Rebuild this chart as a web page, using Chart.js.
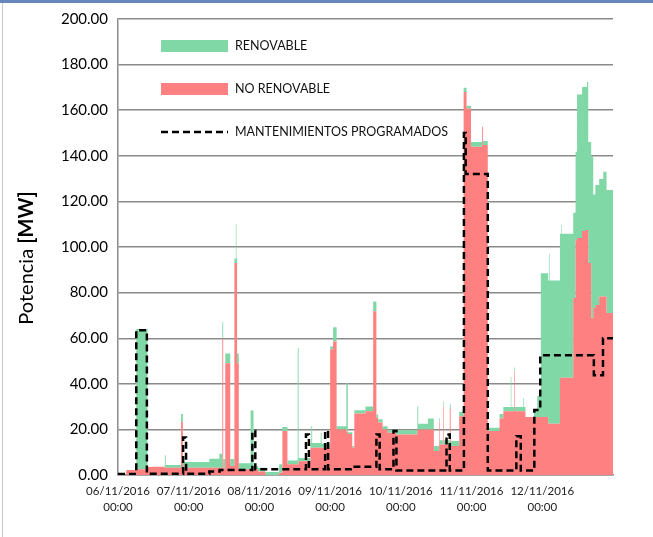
<!DOCTYPE html>
<html>
<head>
<meta charset="utf-8">
<script src="https://cdn.jsdelivr.net/npm/chart.js"></script>
<style>
html,body{margin:0;padding:0;background:#fff;}
#wrap{position:relative;width:653px;height:537px;overflow:hidden;background:#fff;}
#c{position:absolute;left:0;top:0;}
.frame-top{position:absolute;left:0;top:0;width:653px;height:3px;background:#6786bb;}
.frame-left{position:absolute;left:2px;top:3px;width:1px;height:534px;background:#c9c9c9;}
</style>
</head>
<body>
<div id="wrap">
<canvas id="c" width="653" height="537" style="width:653px;height:537px"></canvas>
<div class="frame-top"></div>
<div class="frame-left"></div>
</div>
<script>
// ---- tick labels ----
const dayLabels = ['06/11/2016','07/11/2016','08/11/2016','09/11/2016','10/11/2016','11/11/2016','12/11/2016'];
const timeLabel = '00:00';

// ---- generation series (hours since 06/11/2016 00:00, step start) ----
const hours = [0, 2.8, 6.2, 10.0, 11.7, 15.8, 15.9, 16.2, 21.4, 22.0,
  31.0, 34.4, 35.4, 35.7, 36.4, 38.1, 39.5, 40.0, 40.2, 40.4,
  41.0, 45.0, 46.0, 47.5, 50.0, 54.7, 55.8, 57.5, 61.0, 61.3,
  65.3, 65.6, 65.9, 68.8, 69.1, 72.0, 73.0, 74.2, 77.5, 78.0,
  79.5, 80.2, 84.0, 86.6, 87.7, 88.3, 89.8, 91.5, 94.3, 101.6,
  101.9, 105.2, 107.2, 109.0, 109.2, 110.4, 110.6, 112.6, 112.9, 115.8,
  117.3, 118.3, 119.8, 123.6, 123.9, 125.5, 129.5, 130.8, 133.3, 133.5,
  134.4, 134.6, 137.6, 137.8, 138.3, 141.2, 142.3, 143.5, 146.0, 146.4,
  146.6, 150.0, 150.5, 150.7, 154.5, 155.3, 155.8, 157.5, 158.5, 159.2,
  159.6, 160.6, 161.3, 162.0, 163.3, 164.7, 165.8, 168];

const noRenovable = [0, 2.2, 2.5, 3.5, 3.6, 3.2, 3.2, 3.2, 23.3, 3.2,
  3.2, 3.2, 60, 3, 49, 4, 93, 93, 93, 49,
  2.5, 3, 2.5, 1.5, 0, 1, 19.3, 4.7, 4.7, 6,
  12, 12, 12, 12, 12, 55, 58.6, 20, 19, 18,
  12, 27, 28, 71.8, 25, 23, 20, 18.5, 17.8, 20,
  20, 20, 10.5, 23, 13.4, 30, 13.4, 29, 12.7, 25.8,
  168, 160.7, 144, 152.7, 144.7, 19.3, 24.8, 28, 28, 28,
  45.5, 28, 28, 28, 25.4, 25.4, 25.4, 25.4, 22.5, 22.5,
  22.5, 42.6, 42.6, 42.6, 77.6, 103, 103.9, 107, 107.5, 107.5,
  93, 68.8, 73.2, 74.6, 78.3, 78.3, 71, 71];

const renovable = [0, 0, 61.5, 0, 0, 1.0, 5.5, 1.2, 3.5, 2.5,
  3.9, 6.1, 7, 4, 4.3, 3, 2, 17, 2, 4.3,
  2.6, 25.3, 1.5, 1.7, 1.3, 3.7, 1.7, 1.7, 51, 1.5,
  2, 9.4, 2, 6.5, 1.7, 1.4, 6.2, 1.4, 21.4, 0.7,
  0.7, 1.4, 2, 4.3, 1.5, 1.5, 1.4, 1.1, 1.8, 10,
  2.5, 4.8, 2.2, 2, 1.8, 2.4, 1.8, 2, 2.2, 1.9,
  1.8, 1.3, 2, 0, 1.8, 1.4, 2, 1.8, 15, 1.8,
  1.8, 1.8, 5.8, 1.8, 0, 3.3, 9.2, 63.1, 62.8, 74.5,
  62.8, 63.2, 67.1, 63.2, 37.4, 38.8, 63, 63.2, 62.7, 64.9,
  53, 70.8, 49.8, 52.6, 51.5, 54.7, 54, 54];

// ---- scheduled maintenance (step start hours and MW) ----
const mantHours = [0, 6.2, 9.8, 22.1, 23.1, 31.0, 34.5, 45.6, 46.6, 63.8,
  64.8, 70.3, 71.3, 79.0, 87.7, 88.8, 93.5, 94.5, 111.5, 112.6,
  117.4, 118.0, 125.5, 135.2, 136.7, 141.3, 143.3, 161.5, 164.6, 168];
const mantValues = [0.4, 63.5, 0.6, 16.5, 0.6, 1.5, 2.2, 19.3, 2.5, 17.8,
  2.5, 19.3, 2.5, 3.6, 17.8, 2.5, 19.3, 2.0, 17.8, 2.0,
  150, 132, 2.0, 17, 2.0, 28.5, 52.5, 43.8, 60, 60];

const yMin = 0, yMax = 200, yStep = 20;
const xMax = 168, xStep = 24;

const RED = '#FF8080';
const GREEN = '#80D8A6';

const toPts = (xs, ys) => xs.map((x, i) => ({ x: x, y: ys[i] }));

const decoPlugin = {
  id: 'deco',
  afterDraw(chart) {
    const c = chart.ctx;
    const ds = chart.data.datasets;
    c.save();
    // legend
    c.fillStyle = ds[1].backgroundColor;
    c.fillRect(161, 40, 67, 12);
    c.fillStyle = ds[0].backgroundColor;
    c.fillRect(161, 83, 67, 12);
    c.strokeStyle = '#000';
    c.lineWidth = 2.5;
    c.setLineDash([7, 4]);
    c.beginPath(); c.moveTo(161, 132); c.lineTo(228, 132); c.stroke();
    c.setLineDash([]);
    c.fillStyle = '#111';
    c.font = '12.5px Lato';
    c.textBaseline = 'middle';
    c.textAlign = 'left';
    c.fillText(ds[1].label, 235, 46);
    c.fillText(ds[0].label, 235, 89);
    c.fillText(ds[2].label, 235, 132);
    // y axis title
    const part1 = 'Potencia ';
    const part2 = '[MW]';
    c.font = '20px Lato';
    const w1 = c.measureText(part1).width;
    c.font = 'bold 20px Lato';
    const w2 = c.measureText(part2).width;
    const W = w1 + w2;
    c.translate(27, 258);
    c.rotate(-Math.PI / 2);
    c.fillStyle = '#000';
    c.font = '20px Lato';
    c.fillText(part1, -W / 2, 0);
    c.font = 'bold 20px Lato';
    c.fillText(part2, -W / 2 + w1, 0);
    c.restore();
  }
};

new Chart(document.getElementById('c'), {
  type: 'line',
  data: {
    datasets: [
      { label: 'NO RENOVABLE', data: toPts(hours, noRenovable), backgroundColor: RED,
        borderColor: 'rgba(0,0,0,0)', borderWidth: 0, fill: 'origin', stepped: 'before',
        pointRadius: 0, stack: 'gen', order: 2 },
      { label: 'RENOVABLE', data: toPts(hours, renovable), backgroundColor: GREEN,
        borderColor: 'rgba(0,0,0,0)', borderWidth: 0, fill: '-1', stepped: 'before',
        pointRadius: 0, stack: 'gen', order: 3 },
      { label: 'MANTENIMIENTOS PROGRAMADOS', data: toPts(mantHours, mantValues),
        borderColor: '#000', borderWidth: 2.5, borderDash: [7, 4], fill: false,
        stepped: 'before', pointRadius: 0, stack: 'mant', order: 1 }
    ]
  },
  options: {
    responsive: false,
    animation: false,
    devicePixelRatio: 1,
    layout: { padding: { top: 17, right: 40, bottom: 0, left: 0 } },
    plugins: { legend: { display: false }, tooltip: { enabled: false } },
    scales: {
      x: {
        type: 'linear', min: 0, max: xMax, z: 1,
        grid: { display: false, drawTicks: false },
        border: { display: true, color: '#8c8c8c', width: 1.5 },
        ticks: {
          stepSize: xStep, autoSkip: false, maxRotation: 0, minRotation: 0, padding: 8,
          color: '#222', font: { family: 'Lato', size: 11.5, lineHeight: 1.4 },
          callback: v => (v % xStep === 0 && v < xMax) ? [dayLabels[v / xStep], timeLabel] : ''
        },
        afterFit: s => { s.height = 62; }
      },
      y: {
        stacked: true, min: yMin, max: yMax, z: 1,
        grid: { color: '#8a8a8a', lineWidth: 1.4, drawTicks: false },
        border: { display: true, color: '#8c8c8c', width: 1.5 },
        ticks: {
          stepSize: yStep, padding: 10, color: '#000',
          font: { family: 'Lato', size: 15 },
          callback: v => Number(v).toFixed(2)
        },
        afterFit: s => { s.width = 118; }
      }
    }
  },
  plugins: [decoPlugin]
});
</script>
</body>
</html>
